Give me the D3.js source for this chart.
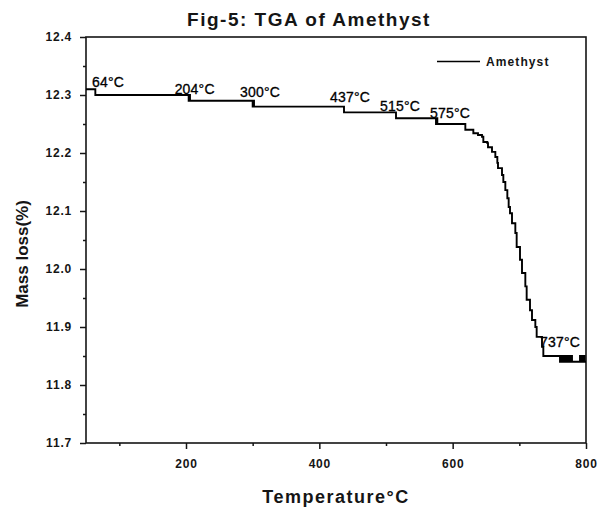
<!DOCTYPE html>
<html>
<head>
<meta charset="utf-8">
<script src="https://cdn.jsdelivr.net/npm/d3@7"></script>
<style>
  body { margin: 0; background: #fff; }
  svg { display: block; font-family: "Liberation Sans", Arial, sans-serif; }
</style>
</head>
<body>
<svg id="chart" width="598" height="509"></svg>
<script>
// values (temperature in °C, mass)
const temperature = [50, 64, 204, 205, 206, 300, 301, 302, 437, 515, 575, 576, 577,
  619, 631, 638, 644, 646, 652, 653, 659, 664, 667, 668, 674, 676, 679, 682, 684,
  686, 689, 694, 696, 701, 704, 709, 711, 716, 719, 724, 726, 734, 736,
  761, 762, 763, 764, 765, 766, 767, 768, 769, 770, 771, 772, 773, 774, 775, 776,
  777, 778, 779, 780, 791, 792, 793, 794, 795, 796, 797, 798, 800];
const mass = [12.31, 12.30, 12.29, 12.30, 12.29, 12.28, 12.29, 12.28, 12.27, 12.26, 12.25, 12.26, 12.25,
  12.240, 12.234, 12.231, 12.228, 12.219, 12.217, 12.210, 12.202, 12.193, 12.183, 12.174, 12.162, 12.150, 12.136, 12.122, 12.107,
  12.096, 12.079, 12.062, 12.038, 12.016, 11.993, 11.970, 11.947, 11.929, 11.912, 11.900, 11.883, 11.866, 11.85,
  11.84, 11.85, 11.84, 11.85, 11.84, 11.85, 11.84, 11.85, 11.84, 11.85, 11.84, 11.85, 11.84, 11.85, 11.84, 11.85,
  11.84, 11.85, 11.84, 11.84, 11.85, 11.84, 11.85, 11.84, 11.85, 11.84, 11.85, 11.84, 11.84];

// step annotations
const labelText = ["64°C", "204°C", "300°C", "437°C", "515°C", "575°C", "737°C"];
const labelTemp = [83, 213, 311, 446, 521, 596, 761];
const labelMass = [12.314, 12.302, 12.297, 12.288, 12.272, 12.260, 11.866];

const xTicks = [200, 400, 600, 800];
const xMinor = [100, 300, 500, 700];
const yTicks = [11.7, 11.8, 11.9, 12.0, 12.1, 12.2, 12.3, 12.4];
const yMinor = [11.75, 11.85, 11.95, 12.05, 12.15, 12.25, 12.35];

const plot = { left: 86, right: 586, top: 37, bottom: 443 };
const svg = d3.select('#chart');

const x = d3.scaleLinear().domain([50, 800]).range([plot.left, plot.right]);
const y = d3.scaleLinear().domain([11.7, 12.4]).range([plot.bottom, plot.top]);

const ink = '#151515';

// axes
svg.append('g')
  .attr('transform', `translate(0,${plot.bottom})`)
  .call(d3.axisBottom(x).tickValues(xTicks).tickSize(6).tickSizeOuter(0).tickPadding(10)
    .tickFormat(d3.format('d')));
svg.append('g')
  .attr('transform', `translate(0,${plot.bottom})`)
  .call(d3.axisBottom(x).tickValues(xMinor).tickSize(3).tickSizeOuter(0).tickFormat(''));

svg.append('g')
  .attr('transform', `translate(${plot.left},0)`)
  .call(d3.axisLeft(y).tickValues(yTicks).tickSize(6).tickSizeOuter(0).tickPadding(8)
    .tickFormat(d3.format('.1f')));
svg.append('g')
  .attr('transform', `translate(${plot.left},0)`)
  .call(d3.axisLeft(y).tickValues(yMinor).tickSize(3).tickSizeOuter(0).tickFormat(''));

svg.selectAll('.domain').remove();
svg.selectAll('.tick line').attr('stroke', ink).attr('stroke-width', 1.5);
svg.selectAll('.tick text')
  .attr('fill', ink)
  .style('font-size', '12px')
  .style('font-weight', 'bold')
  .style('letter-spacing', '0.8px')
  .style('font-family', '"Liberation Sans", Arial, sans-serif');

// frame
svg.append('rect')
  .attr('x', plot.left).attr('y', plot.top)
  .attr('width', plot.right - plot.left).attr('height', plot.bottom - plot.top)
  .attr('fill', 'none').attr('stroke', ink).attr('stroke-width', 1.6);

// curve
const pts = temperature.map((t, i) => [t, mass[i]]);
const line = d3.line()
  .x(d => x(d[0]))
  .y(d => y(d[1]))
  .curve(d3.curveStepAfter);

svg.append('path')
  .datum(pts)
  .attr('d', line)
  .attr('fill', 'none')
  .attr('stroke', '#000')
  .attr('stroke-width', 1.9);

// step labels
svg.selectAll('.step-label')
  .data(labelText)
  .enter()
  .append('text')
  .attr('class', 'step-label')
  .attr('x', (d, i) => x(labelTemp[i]))
  .attr('y', (d, i) => y(labelMass[i]))
  .attr('text-anchor', 'middle')
  .attr('fill', '#000')
  .attr('stroke', '#000')
  .attr('stroke-width', 0.3)
  .style('font-size', '14px')
  .style('letter-spacing', '0.2px')
  .text(d => d);

// legend
svg.append('line')
  .attr('x1', 437).attr('x2', 480)
  .attr('y1', 61.5).attr('y2', 61.5)
  .attr('stroke', '#000').attr('stroke-width', 1.6);
svg.append('text')
  .attr('x', 486).attr('y', 66)
  .attr('fill', ink)
  .style('font-size', '12px')
  .style('font-weight', 'bold')
  .style('letter-spacing', '1.1px')
  .text('Amethyst');

// title + axis titles
svg.append('text')
  .attr('x', 309).attr('y', 26)
  .attr('text-anchor', 'middle')
  .attr('fill', ink)
  .style('font-size', '19px')
  .style('font-weight', 'bold')
  .style('letter-spacing', '1.5px')
  .text('Fig-5: TGA of Amethyst');

svg.append('text')
  .attr('x', 336).attr('y', 503)
  .attr('text-anchor', 'middle')
  .attr('fill', ink)
  .style('font-size', '18px')
  .style('font-weight', 'bold')
  .style('letter-spacing', '1.5px')
  .text('Temperature°C');

svg.append('text')
  .attr('transform', 'translate(28,254) rotate(-90)')
  .attr('text-anchor', 'middle')
  .attr('fill', ink)
  .style('font-size', '17px')
  .style('font-weight', 'bold')
  .text('Mass loss(%)');
</script>
</body>
</html>
